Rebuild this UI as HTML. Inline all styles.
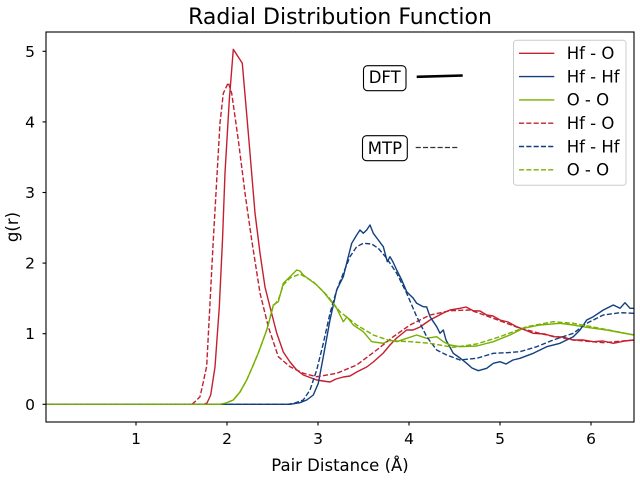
<!DOCTYPE html>
<html>
<head>
<meta charset="utf-8">
<style>
html,body{margin:0;padding:0;background:#fff;}
svg{display:block;}
text{font-family:"DejaVu Sans","Liberation Sans",sans-serif;fill:#000;}
</style>
</head>
<body>
<svg width="640" height="480" viewBox="0 0 640 480" xmlns="http://www.w3.org/2000/svg">
<defs>
<clipPath id="ax"><rect x="46" y="32" width="588" height="390"/></clipPath>
</defs>
<rect x="0" y="0" width="640" height="480" fill="#fff"/>

<!-- title -->
<text x="340" y="24" font-size="22" text-anchor="middle">Radial Distribution Function</text>

<g clip-path="url(#ax)" fill="none" stroke-width="1.4" stroke-linejoin="round">
<!-- Hf-O DFT -->
<polyline stroke="#c3202f" points="46,404.3 204,404.3 207,403 210.7,395 215,367 219.3,307 222.5,240 225,173 229.3,100 233.3,49.3 242.3,63.3 248.3,133 255,213 260,253 265,287 270,307 276.7,333 283.3,352 290,362 296.7,370 303.3,375 316.7,380 323,381 330,382 336,379 343.3,377 350,376 356.7,372 366.7,367 373.3,362 383.3,353 390,345 396.7,338 406.7,330 413,330 420,327 430,320 443.3,313 450,310 460,308.3 466,307 473.3,310.7 480,311 486.7,315 493,316 500,320 508,322 516.7,326.7 525,330 533.3,333.3 545,334 553.3,336.7 563,337 573.3,340 583,340 593.3,341.7 603,341 613.3,343.3 625,341 634,340"/>
<!-- Hf-Hf DFT -->
<polyline stroke="#113f7f" points="46,404.3 290,404.3 300,402.7 306.7,400 313.3,395 318.3,383.3 323.3,356.7 330,320 336.7,290 343.3,276.7 348.3,256.7 351.7,243.3 356.7,235 360,230 363.3,233.3 366.7,230 370,225 373.3,233.3 378.3,240 383.3,246.7 387.3,261.7 390,256.7 393,262 396.7,270 401.7,280 406.7,291.7 413.3,298.3 416.7,303.3 423.3,306.7 426.7,307 430,316.7 436.7,326.7 440,333.3 443.3,330 446,340 453.3,353.3 460,358 466.7,363.3 472,368 478.3,370.7 486.7,368.3 493.3,363.3 500,361.7 506,364 513,360 520,358.3 533.3,353.3 546.7,346.7 560,343.3 573.3,336.7 580,330 586.7,320 593.3,316.7 603.3,310 613.3,305 620,308.3 625,302.7 630,308.3 634,308.3"/>
<!-- O-O DFT -->
<polyline stroke="#77b000" points="46,404.3 220,404.3 226,403 233.3,400 240,392 246.7,380 252,368 258.3,353 262,343 266.7,330 270,318 273.3,305 278.3,301.7 281,292 283.3,283.3 290,276.7 296.7,270 300,271 303.3,275 310,280 316.7,285 323.3,291.7 330,300 336.7,308.3 343.3,321.7 347,317 353.3,325 363.3,331.7 371.7,341.7 383.3,343.3 390,340 396.7,341.7 406.7,338.3 416.7,335 426.7,338.3 436.7,336.7 443.3,341.7 450,345 460,346.7 476.7,346 493.3,341.7 510,335 523.3,328.3 540,325 560,323.3 573.3,325 586.7,327.3 606.7,330 634,335"/>

<g stroke-dasharray="5.1,2.2">
<!-- Hf-O MTP -->
<polyline stroke="#c3202f" points="46,404.3 192,404.3 195,401.7 200,396.7 203.3,382 206.7,366 213.3,240 220,123 223.3,93.3 228.3,82.7 231.7,93.3 238.3,140 245,193 251.7,240 260,293 268.3,326.7 278.3,356.7 290,366.7 303.3,373.3 316.7,376.7 336.7,373.3 356.7,365 376.7,350 393.3,336.7 410,325 430,315 450,310.7 470,310 493.3,318.3 520,328.3 546.7,335 573.3,340 603.3,342.7 634,340"/>
<!-- Hf-Hf MTP -->
<polyline stroke="#113f7f" points="46,404.3 288,404.3 295,403 303.3,400 310,390 316.7,370 323.3,343.3 330,313.3 336.7,290 343.3,273.3 350,256.7 356.7,246.7 363.3,243.3 371.7,244 378.3,248.3 386.7,258.3 396.7,273.3 406.7,293.3 416.7,316.7 426.7,336.7 436.7,350 446.7,355 460,360 476.7,358.3 493.3,353.3 506.7,352.7 520,351.7 536.7,346.7 553.3,340 573.3,333.3 586.7,323.3 603.3,315 620,312.7 634,313.3"/>
<!-- O-O MTP -->
<polyline stroke="#77b000" points="46,404.3 220,404.3 226,403 233.3,400 240,392 246.7,380 252,368 258.3,353 262,343 266.7,330 270,318 273.3,306 278.3,300 283.3,285 290,278 300,274 313.3,281.7 326.7,295 340,311.7 356.7,325 373.3,335 390,340.7 410,341.7 430,343.3 453.3,347.3 476.7,344 500,336.7 526.7,326.7 553.3,321.7 573.3,323.3 600,328.3 634,335"/>
</g>
</g>

<!-- axes frame -->
<rect x="46" y="32" width="588" height="390" fill="none" stroke="#000" stroke-width="1.1"/>

<!-- y ticks -->
<g stroke="#000" stroke-width="1.1">
<line x1="42.5" y1="404.3" x2="46" y2="404.3"/>
<line x1="42.5" y1="333.7" x2="46" y2="333.7"/>
<line x1="42.5" y1="263.1" x2="46" y2="263.1"/>
<line x1="42.5" y1="192.5" x2="46" y2="192.5"/>
<line x1="42.5" y1="121.9" x2="46" y2="121.9"/>
<line x1="42.5" y1="51.3" x2="46" y2="51.3"/>
<line x1="136" y1="422" x2="136" y2="425.5"/>
<line x1="227" y1="422" x2="227" y2="425.5"/>
<line x1="318" y1="422" x2="318" y2="425.5"/>
<line x1="409" y1="422" x2="409" y2="425.5"/>
<line x1="500" y1="422" x2="500" y2="425.5"/>
<line x1="591" y1="422" x2="591" y2="425.5"/>
</g>
<g font-size="15.5" text-anchor="end">
<text x="35" y="409.8">0</text>
<text x="35" y="339.2">1</text>
<text x="35" y="268.6">2</text>
<text x="35" y="198">3</text>
<text x="35" y="127.4">4</text>
<text x="35" y="56.8">5</text>
</g>
<g font-size="15.5" text-anchor="middle">
<text x="136" y="444">1</text>
<text x="227" y="444">2</text>
<text x="318" y="444">3</text>
<text x="409" y="444">4</text>
<text x="500" y="444">5</text>
<text x="591" y="444">6</text>
</g>

<!-- axis labels -->
<text x="340" y="471" font-size="16.5" text-anchor="middle">Pair Distance (Å)</text>
<text transform="translate(18,227) rotate(-90)" font-size="16.5" text-anchor="middle">g(r)</text>

<!-- annotations -->
<rect x="363.5" y="65.7" width="42.5" height="25" rx="4" ry="4" fill="#fff" stroke="#000" stroke-width="1.1"/>
<text x="384.7" y="83" font-size="16.5" text-anchor="middle">DFT</text>
<line x1="416.7" y1="76.8" x2="462.7" y2="75.5" stroke="#000" stroke-width="2.6"/>
<rect x="362.5" y="135.7" width="44.8" height="25" rx="4" ry="4" fill="#fff" stroke="#000" stroke-width="1.1"/>
<text x="384.9" y="154" font-size="16.5" text-anchor="middle">MTP</text>
<line x1="415.7" y1="147.5" x2="458.5" y2="147.5" stroke="#333" stroke-width="1.3" stroke-dasharray="5.1,2.2"/>

<!-- legend -->
<rect x="513.5" y="40.3" width="112.5" height="145" rx="3" ry="3" fill="#fff" fill-opacity="0.8" stroke="#cccccc" stroke-width="1"/>
<g stroke-width="1.4">
<line x1="519" y1="53.3" x2="554.3" y2="53.3" stroke="#c3202f"/>
<line x1="519" y1="76.6" x2="554.3" y2="76.6" stroke="#113f7f"/>
<line x1="519" y1="99.9" x2="554.3" y2="99.9" stroke="#77b000"/>
<g stroke-dasharray="5.1,2.2">
<line x1="519" y1="123.2" x2="554.3" y2="123.2" stroke="#c3202f"/>
<line x1="519" y1="146.5" x2="554.3" y2="146.5" stroke="#113f7f"/>
<line x1="519" y1="169.8" x2="554.3" y2="169.8" stroke="#77b000"/>
</g>
</g>
<g font-size="16.5">
<text x="566.7" y="59.1">Hf - O</text>
<text x="566.7" y="82.4">Hf - Hf</text>
<text x="566.7" y="105.7">O - O</text>
<text x="566.7" y="129">Hf - O</text>
<text x="566.7" y="152.3">Hf - Hf</text>
<text x="566.7" y="175.6">O - O</text>
</g>
</svg>
</body>
</html>
